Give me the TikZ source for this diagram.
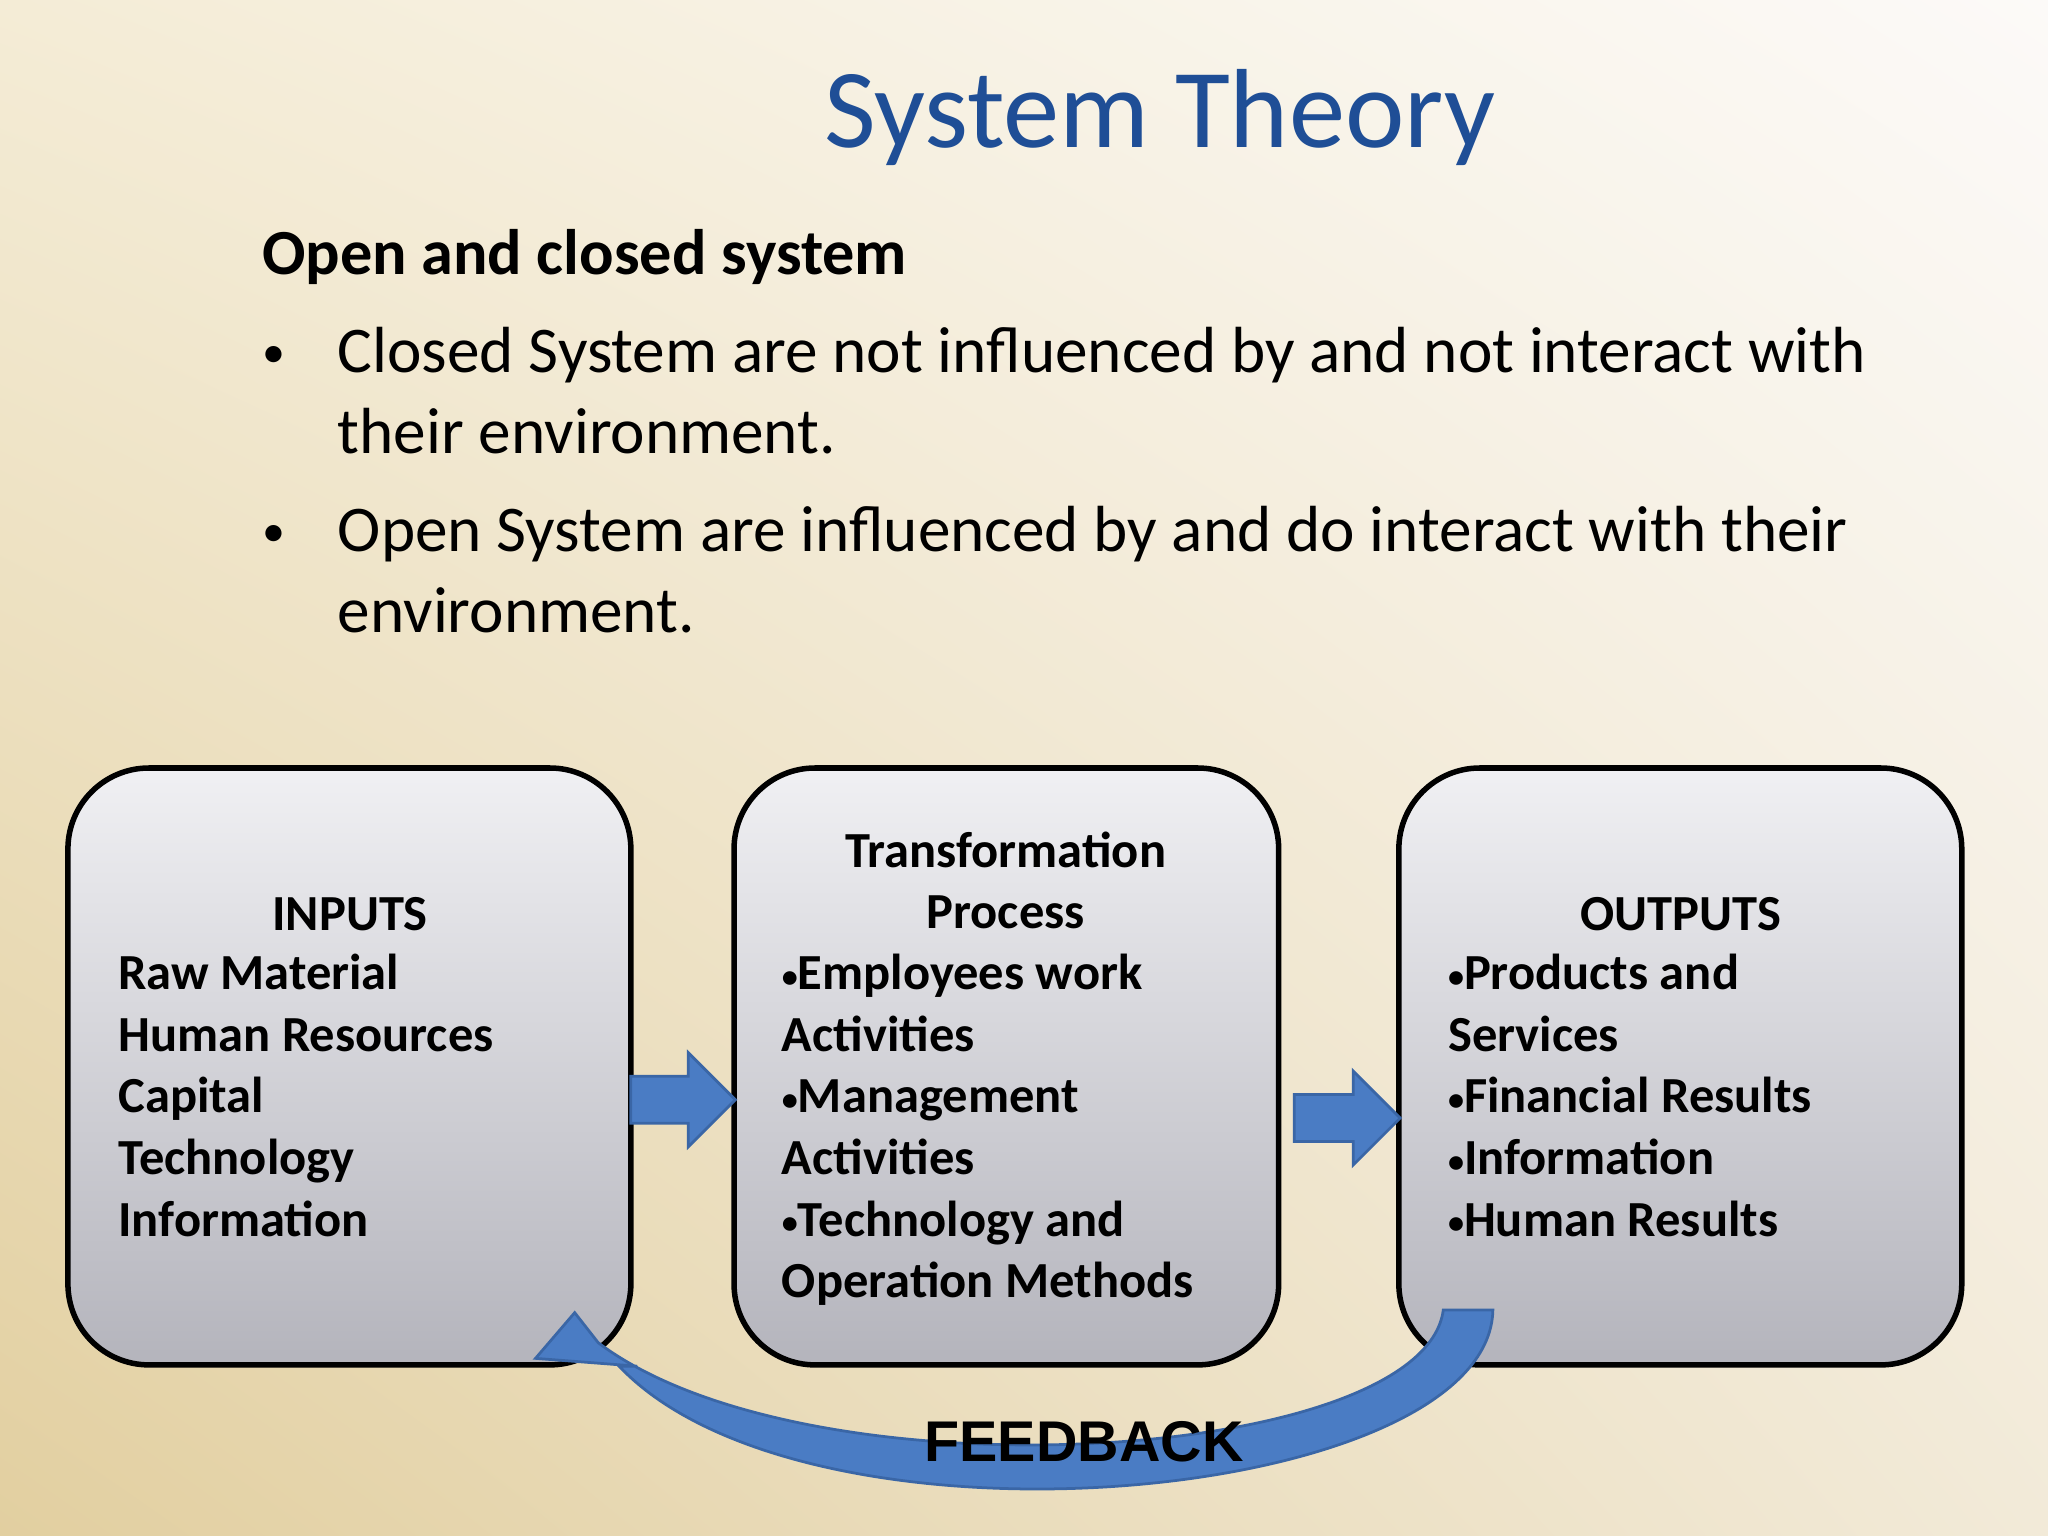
\documentclass[tikz,border=0pt]{standalone}
\usepackage{fontspec}
\usetikzlibrary{shadings}
\setmainfont{Carlito}
\newfontfamily\arialf{Liberation Sans}
\definecolor{ttl}{HTML}{1F4E96}
\definecolor{ablue}{HTML}{4A7CC4}
\definecolor{ablue2}{HTML}{3A66A6}
\definecolor{bgll}{RGB}{226,207,160}
\definecolor{bgul}{RGB}{244,236,214}
\definecolor{bglr}{RGB}{242,234,216}
\definecolor{bgur}{RGB}{252,250,248}
\definecolor{boxtop}{HTML}{F0F0F3}
\definecolor{boxbot}{HTML}{B4B4BC}
\newcommand{\smb}{{\fontsize{7}{7}\selectfont\raisebox{0.15ex}{•}}}
\tikzset{
  box/.style={draw=black,line width=1.2pt,rounded corners=0.62cm,top color=boxtop,bottom color=boxbot},
  btxt/.style={font=\fontsize{11}{13.4}\selectfont\bfseries,align=left,inner sep=0},
  bhead/.style={font=\fontsize{11}{13.4}\selectfont\bfseries,align=center,inner sep=0},
  barrow/.style={fill=ablue,draw=ablue2,line width=0.6pt}
}
\begin{document}
\begin{tikzpicture}[x=0.01cm,y=-0.01cm]
\shade[lower left=bgll,upper left=bgul,lower right=bglr,upper right=bgur] (0,1176) rectangle (1568,0);
\useasboundingbox (0,0) rectangle (1568,1176);
\node[text=ttl,font=\fontsize{24.5}{28}\selectfont] (title) at (888,90) {System Theory};
\node[anchor=west,font=\fontsize{14}{17}\selectfont\bfseries,inner sep=0] (head) at (200,197) {Open and closed system};
\node[anchor=west,font=\fontsize{10}{17}\selectfont,inner sep=0] (b1) at (200,273) {•};
\node[anchor=north west,font=\fontsize{14.2}{17.6}\selectfont,align=left,inner sep=0] (t1) at (258,250) {Closed System are not influenced by and not interact with\\their environment.};
\node[anchor=west,font=\fontsize{10}{17}\selectfont,inner sep=0] (b2) at (200,410) {•};
\node[anchor=north west,font=\fontsize{14.2}{17.6}\selectfont,align=left,inner sep=0] (t2) at (258,387) {Open System are influenced by and do interact with their\\environment.};
\draw[box] (52,588) rectangle (483,1045);
\draw[box] (562,588) rectangle (979,1045);
\draw[box] (1071,588) rectangle (1502,1045);
\node[bhead] (h1) at (268,700) {INPUTS};
\node[btxt,anchor=north west] (l1) at (90,730) {Raw Material\\Human Resources\\Capital\\Technology\\Information};
\node[bhead,anchor=north] (h2) at (770,636) {Transformation\\Process};
\node[btxt,anchor=north west] (l2) at (598,730) {\smb Employees work\\Activities\\\smb Management\\Activities\\\smb Technology and\\Operation Methods};
\node[bhead] (h3) at (1287,700) {OUTPUTS};
\node[btxt,anchor=north west] (l3) at (1108,730) {\smb Products and\\Services\\\smb Financial Results\\\smb Information\\\smb Human Results};
\draw[barrow] (483,824) -- (527,824) -- (527,806) -- (563,842) -- (527,878) -- (527,860) -- (483,860) -- cycle;
\draw[barrow] (991,838) -- (1036,838) -- (1036,820) -- (1072,856) -- (1036,892) -- (1036,874) -- (991,874) -- cycle;
\draw[barrow] (1143,1003) .. controls (1140,1150) and (620,1200) .. (474,1046)
  -- (488,1046) -- (410,1040) -- (440,1005) -- (458,1028)
  .. controls (620,1150) and (1090,1120) .. (1105,1003) -- cycle;
\node[font=\arialf\fontsize{12.5}{15}\selectfont\bfseries] (fb) at (830,1104) {FEEDBACK};
\end{tikzpicture}
\end{document}
